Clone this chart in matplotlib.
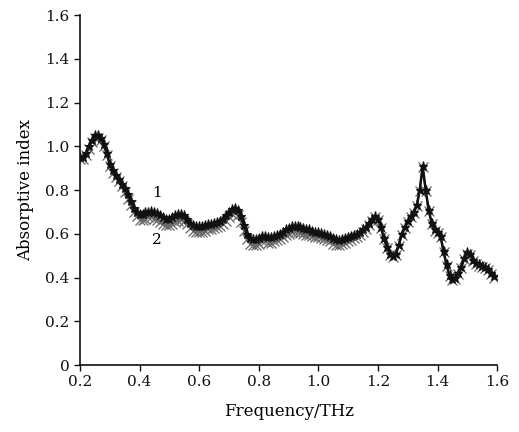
import numpy as np
import matplotlib
matplotlib.use("Agg")
import matplotlib.pyplot as plt

freq = np.round(np.arange(0.20, 1.595, 0.01), 2)

curve1 = [0.95, 0.95, 0.97, 1.00, 1.03, 1.05, 1.05, 1.04, 1.01, 0.97,
          0.92, 0.89, 0.87, 0.85, 0.83, 0.81, 0.78, 0.75, 0.72, 0.70,
          0.69, 0.69, 0.70, 0.70, 0.705, 0.70, 0.695, 0.685, 0.675, 0.67,
          0.67, 0.675, 0.685, 0.69, 0.69, 0.685, 0.67, 0.65, 0.64, 0.635,
          0.635, 0.635, 0.64, 0.645, 0.645, 0.65, 0.655, 0.66, 0.67, 0.685,
          0.70, 0.715, 0.72, 0.71, 0.68, 0.64, 0.60, 0.58, 0.575, 0.575,
          0.58, 0.59, 0.59, 0.585, 0.585, 0.59, 0.595, 0.60, 0.61, 0.62,
          0.625, 0.635, 0.635, 0.635, 0.63, 0.625, 0.62, 0.62, 0.615, 0.61,
          0.61, 0.605, 0.60, 0.595, 0.59, 0.58, 0.575, 0.57, 0.575, 0.58,
          0.585, 0.59, 0.595, 0.60, 0.61, 0.62, 0.63, 0.65, 0.67, 0.68,
          0.67, 0.63, 0.58, 0.54, 0.51, 0.50, 0.51, 0.55, 0.60, 0.63,
          0.66, 0.68, 0.70, 0.73, 0.80, 0.91, 0.80, 0.71, 0.65, 0.62,
          0.61, 0.59, 0.52, 0.46, 0.41, 0.395, 0.40, 0.42, 0.45, 0.49,
          0.515, 0.51, 0.48, 0.465, 0.46, 0.455, 0.45, 0.44, 0.42, 0.405]

curve2 = [0.94, 0.94, 0.96, 0.99, 1.02, 1.04, 1.04, 1.03, 1.00, 0.96,
          0.91, 0.88, 0.86, 0.84, 0.82, 0.79, 0.76, 0.73, 0.70, 0.68,
          0.665, 0.665, 0.67, 0.675, 0.675, 0.67, 0.665, 0.655, 0.645, 0.64,
          0.64, 0.645, 0.655, 0.66, 0.665, 0.66, 0.645, 0.625, 0.615, 0.61,
          0.61, 0.61, 0.615, 0.62, 0.62, 0.625, 0.63, 0.635, 0.645, 0.66,
          0.675, 0.69, 0.695, 0.685, 0.655, 0.615, 0.575, 0.555, 0.55, 0.55,
          0.555, 0.565, 0.565, 0.56, 0.56, 0.565, 0.57, 0.575, 0.585, 0.595,
          0.60, 0.61, 0.61, 0.61, 0.605, 0.60, 0.595, 0.595, 0.59, 0.585,
          0.585, 0.58, 0.575, 0.57, 0.565, 0.555, 0.55, 0.55, 0.555, 0.56,
          0.565, 0.57, 0.58, 0.585, 0.595, 0.61, 0.62, 0.64, 0.66, 0.675,
          0.665, 0.625, 0.575, 0.535, 0.505, 0.495, 0.505, 0.545, 0.595, 0.625,
          0.655, 0.675, 0.695, 0.725, 0.795, 0.905, 0.795, 0.705, 0.645, 0.615,
          0.605, 0.585, 0.515, 0.455, 0.405, 0.39, 0.395, 0.415, 0.445, 0.485,
          0.51, 0.505, 0.475, 0.46, 0.455, 0.45, 0.445, 0.435, 0.415, 0.40]

xticks = [0.2, 0.4, 0.6, 0.8, 1.0, 1.2, 1.4, 1.6]
xticklabels = ["0.2", "0.4", "0.6", "0.8", "1.0", "1.2", "1.4", "1.6"]
yticks = [0, 0.2, 0.4, 0.6, 0.8, 1.0, 1.2, 1.4, 1.6]
yticklabels = ["0", "0.2", "0.4", "0.6", "0.8", "1.0", "1.2", "1.4", "1.6"]

plt.rcParams['font.family'] = ['DejaVu Serif']

fig = plt.figure(figsize=(5.19, 4.32), dpi=100)
ax = fig.add_axes([0.154, 0.155, 0.804, 0.810])

ax.plot(freq, curve2, color="#666666", lw=1.4, marker="x", ms=7, mew=0.9)
ax.plot(freq, curve1, color="#111111", lw=1.8, marker="*", ms=6.5, mew=0.8)

ax.text(0.458, 0.785, "1", fontsize=11, ha="center", va="center")
ax.text(0.458, 0.57, "2", fontsize=11, ha="center", va="center")

ax.set_xlim(0.2, 1.6)
ax.set_ylim(0, 1.6)
ax.set_xticks(xticks)
ax.set_xticklabels(xticklabels)
ax.set_yticks(yticks)
ax.set_yticklabels(yticklabels)
ax.tick_params(direction="out", length=4, width=1.0, labelsize=11, colors="#111111")
for s in ["top", "right"]:
    ax.spines[s].set_visible(False)
for s in ["left", "bottom"]:
    ax.spines[s].set_linewidth(1.2)
    ax.spines[s].set_color("#111111")

ax.set_xlabel("Frequency/THz", fontsize=12, labelpad=10)
ax.set_ylabel("Absorptive index", fontsize=12, labelpad=8)

fig.savefig("out.png", dpi=100)
